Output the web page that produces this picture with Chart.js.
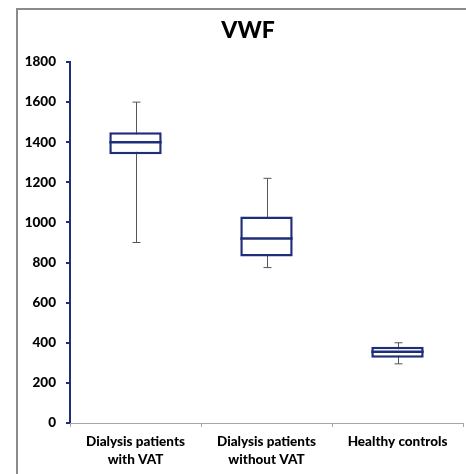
<!DOCTYPE html>
<html>
<head>
<meta charset="utf-8">
<script src="https://cdn.jsdelivr.net/npm/chart.js@4.4.1/dist/chart.umd.min.js"></script>
<style>
  html, body { margin: 0; padding: 0; background: #fff; }
  #wrap { position: relative; width: 466px; height: 474px; overflow: hidden; }
  #frame { position: absolute; left: 16px; top: 8px; width: 460px; height: 470px;
           border-left: 2px solid #8a8a8a; border-top: 2px solid #8a8a8a; }
  canvas { position: absolute; left: 0; top: 0; }
</style>
</head>
<body>
<div id="wrap">
  <div id="frame"></div>
  <canvas id="chart" width="466" height="474"></canvas>
</div>
<script>
// ---- datos ----
const categorias = [["Dialysis patients", "with VAT"], ["Dialysis patients", "without VAT"], ["Healthy controls"]];
const minimos  = [900, 775, 295];
const q1       = [1340, 830, 325];
const medianas = [1400, 920, 355];
const q3       = [1450, 1030, 380];
const maximos  = [1600, 1220, 400];
const yTicks   = [0, 200, 400, 600, 800, 1000, 1200, 1400, 1600, 1800];
const titulo   = 'VWF';

const AZUL = '#1f2e78';
const GRIS = '#555555';
const FUENTE = 'Lato, "Open Sans", sans-serif';

// bigotes antes de las cajas, medianas después
const boxPlugin = {
    id: 'boxplot',
    beforeDatasetsDraw(chart) {
        const ctx = chart.ctx;
        const y = chart.scales.y;
        const meta = chart.getDatasetMeta(0);
        ctx.save();
        ctx.strokeStyle = GRIS;
        ctx.lineWidth = 1;
        meta.data.forEach((bar, i) => {
            const x = Math.round(bar.x) + 0.5;
            const yMax = y.getPixelForValue(maximos[i]);
            const yMin = y.getPixelForValue(minimos[i]);
            ctx.beginPath();
            ctx.moveTo(x, yMax); ctx.lineTo(x, yMin);
            ctx.moveTo(x - 4, yMax); ctx.lineTo(x + 4, yMax);
            ctx.moveTo(x - 4, yMin); ctx.lineTo(x + 4, yMin);
            ctx.stroke();
        });
        ctx.restore();
    },
    afterDatasetsDraw(chart) {
        const ctx = chart.ctx;
        const y = chart.scales.y;
        const meta = chart.getDatasetMeta(0);
        ctx.save();
        ctx.strokeStyle = AZUL;
        ctx.lineWidth = 2.5;
        meta.data.forEach((bar, i) => {
            const ym = y.getPixelForValue(medianas[i]);
            ctx.beginPath();
            ctx.moveTo(bar.x - bar.width / 2, ym);
            ctx.lineTo(bar.x + bar.width / 2, ym);
            ctx.stroke();
        });
        ctx.restore();
    }
};

// título centrado sobre el marco (no sobre el área del gráfico)
const tituloPlugin = {
    id: 'tituloMarco',
    afterDraw(chart) {
        const ctx = chart.ctx;
        ctx.save();
        ctx.fillStyle = '#000';
        ctx.font = '900 23px ' + FUENTE;
        ctx.textAlign = 'center';
        ctx.textBaseline = 'middle';
        ctx.fillText(titulo, 248, 31);
        ctx.restore();
    }
};

new Chart(document.getElementById('chart'), {
    type: 'bar',
    data: {
        labels: categorias,
        datasets: [{
            label: titulo,
            data: q1.map((v, i) => [v, q3[i]]),
            backgroundColor: '#ffffff',
            borderColor: AZUL,
            borderWidth: 2.5,
            borderSkipped: false,
            categoryPercentage: 1,
            barPercentage: 0.4
        }]
    },
    options: {
        responsive: false,
        animation: false,
        layout: { padding: { left: 18, right: 3, top: 62, bottom: 0 } },
        plugins: {
            legend: { display: false },
            tooltip: { enabled: false },
            title: { display: false }
        },
        scales: {
            y: {
                min: 0, max: 1800,
                afterBuildTicks: (s) => { s.ticks = yTicks.map(v => ({ value: v })); },
                afterFit: (s) => { s.width = 52; },
                border: { color: AZUL, width: 2 },
                grid: { drawOnChartArea: false, drawTicks: true, tickLength: 4, color: AZUL, lineWidth: 2 },
                ticks: { color: '#000', padding: 10, callback: (v) => String(v),
                         font: { family: FUENTE, size: 13.5, weight: '900' } }
            },
            x: {
                afterFit: (s) => { s.height = 51; },
                border: { color: '#a6a6a6', width: 1 },
                grid: { drawOnChartArea: false, drawTicks: true, tickLength: 4, color: '#a6a6a6', offset: true },
                ticks: { color: '#000', padding: 6, maxRotation: 0, autoSkip: false,
                         font: { family: FUENTE, size: 13.5, weight: '900', lineHeight: 1.33 } }
            }
        }
    },
    plugins: [boxPlugin, tituloPlugin]
});
</script>
</body>
</html>
